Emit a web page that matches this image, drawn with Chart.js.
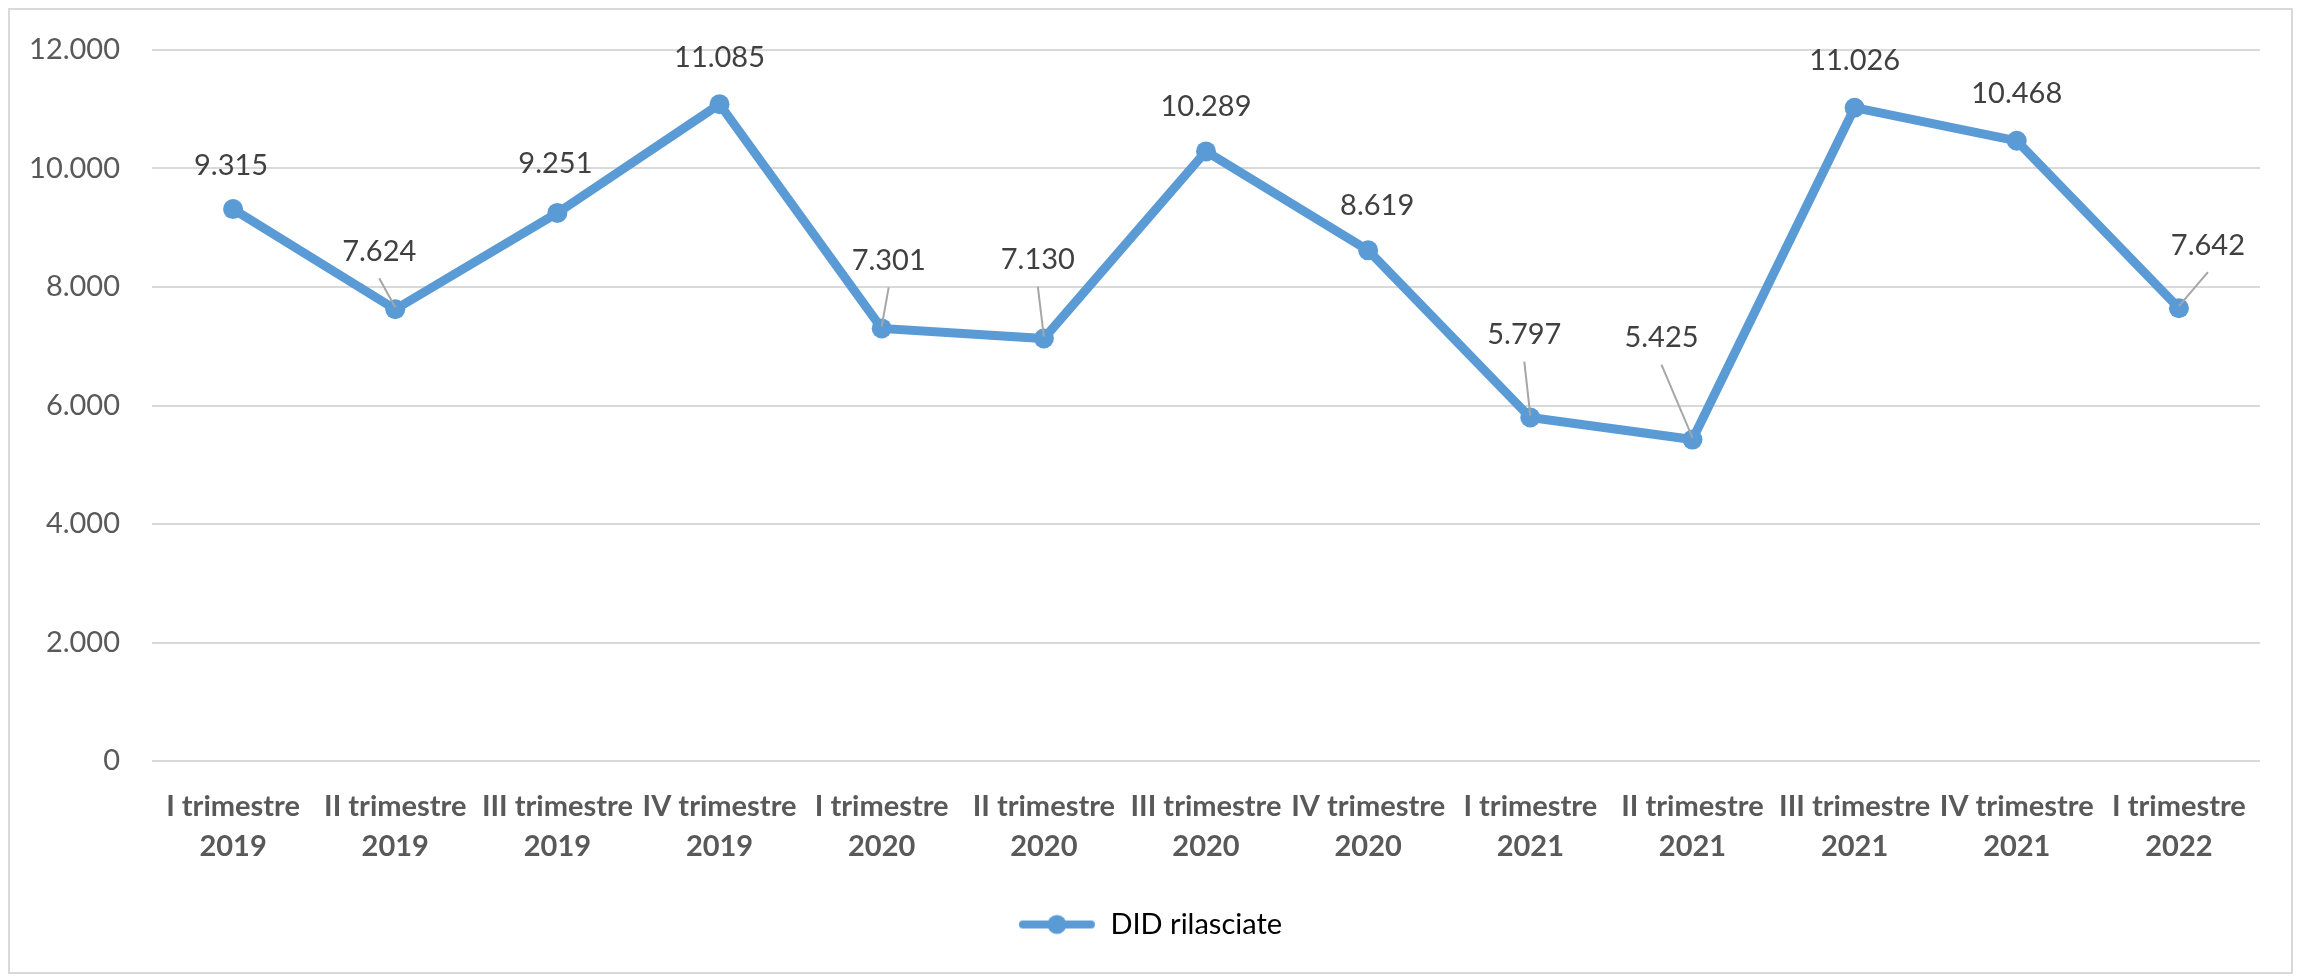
<!DOCTYPE html>
<html>
<head>
<meta charset="utf-8">
<script src="https://cdn.jsdelivr.net/npm/chart.js@4.4.1/dist/chart.umd.min.js"></script>
<style>
	body { margin: 0; background: #fff; }
	#frame {
		position: absolute; left: 8px; top: 8px; width: 2285px; height: 966px;
		border: 2px solid #d9d9d9; box-sizing: border-box;
	}
	#chart { position: absolute; left: 0; top: 0; }
</style>
</head>
<body>
<div id="frame"></div>
<canvas id="chart" width="2300" height="980"></canvas>
<script>
// data
const quarters = ['I trimestre', 'II trimestre', 'III trimestre', 'IV trimestre', 'I trimestre', 'II trimestre', 'III trimestre', 'IV trimestre', 'I trimestre', 'II trimestre', 'III trimestre', 'IV trimestre', 'I trimestre']
const years = ['2019', '2019', '2019', '2019', '2020', '2020', '2020', '2020', '2021', '2021', '2021', '2021', '2022']
const didRilasciate = [9315, 7624, 9251, 11085, 7301, 7130, 10289, 8619, 5797, 5425, 11026, 10468, 7642]
const seriesName = 'DID rilasciate'
const yMin = 0
const yMax = 12000
const yStep = 2000

// where each value label sits relative to its point (px), and whether it has a leader line
const labelShift = [[-2, -43], [-16, -58], [-2, -49], [0, -47], [7, -68], [-6, -79], [0, -45], [9, -45], [-6, -83], [-31, -102], [0, -47], [0, -47], [29, -63]]
const hasLeader = [false, true, false, false, true, true, false, false, true, true, false, false, true]

const BLUE = '#5b9bd5'
const FONT = 'Lato, "Open Sans", sans-serif'
const MARK_PAD = 40 // empty room left of the legend marker, nudges the legend right

function fmt(v) {
	return String(v).replace(/\B(?=(\d{3})+(?!\d))/g, '.')
}

// legend marker: line with a dot in the middle
function legendMarker() {
	let c = document.createElement('canvas')
	c.width = 78 + MARK_PAD
	c.height = 22
	let g = c.getContext('2d')
	g.translate(MARK_PAD, 0)
	g.strokeStyle = BLUE
	g.lineWidth = 8
	g.lineCap = 'round'
	g.beginPath()
	g.moveTo(5, 11)
	g.lineTo(73, 11)
	g.stroke()
	g.fillStyle = BLUE
	g.beginPath()
	g.arc(39, 11, 9.5, 0, Math.PI * 2)
	g.fill()
	return c
}

const valueLabels = {
	id: 'valueLabels',
	afterDatasetsDraw(chart) {
		const ctx = chart.ctx
		const meta = chart.getDatasetMeta(0)
		ctx.save()
		ctx.font = '29px ' + FONT
		ctx.fillStyle = '#404040'
		ctx.textAlign = 'center'
		ctx.textBaseline = 'middle'
		meta.data.forEach((pt, i) => {
			let lx = pt.x + labelShift[i][0]
			let ly = pt.y + labelShift[i][1]
			if (hasLeader[i]) {
				ctx.strokeStyle = '#a6a6a6'
				ctx.lineWidth = 2
				ctx.beginPath()
				ctx.moveTo(lx, ly + 27)
				ctx.lineTo(pt.x, pt.y - 2)
				ctx.stroke()
			}
			ctx.fillText(fmt(didRilasciate[i]), lx, ly)
		})
		ctx.restore()
	},
}

const marker = legendMarker()

new Chart(document.getElementById('chart'), {
	type: 'line',
	data: {
		labels: quarters.map((q, i) => [q, years[i]]),
		datasets: [
			{
				label: seriesName,
				data: didRilasciate,
				borderColor: BLUE,
				backgroundColor: BLUE,
				borderWidth: 9,
				pointRadius: 10,
				pointBorderWidth: 0,
				pointBackgroundColor: BLUE,
				pointStyle: 'circle',
				tension: 0,
			},
		],
	},
	options: {
		responsive: false,
		animation: false,
		devicePixelRatio: 1,
		layout: { padding: { top: 50, right: 40, bottom: 31, left: 0 } },
		plugins: {
			tooltip: { enabled: false },
			legend: {
				position: 'bottom',
				labels: {
					usePointStyle: true,
					pointStyleWidth: 78 + MARK_PAD,
					boxHeight: 22,
					padding: 10,
					color: '#595959',
					font: { family: FONT, size: 29 },
					generateLabels: (chart) => [
						{
							text: seriesName,
							pointStyle: marker,
							fillStyle: BLUE,
							strokeStyle: BLUE,
							lineWidth: 0,
							datasetIndex: 0,
						},
					],
				},
			},
		},
		scales: {
			x: {
				offset: true,
				grid: { display: false, drawTicks: false },
				border: { display: false },
				ticks: {
					autoSkip: false,
					maxRotation: 0,
					minRotation: 0,
					padding: 25,
					color: '#595959',
					font: { family: FONT, size: 29, weight: 'bold', lineHeight: 1.4 },
				},
				afterFit: (scale) => {
					scale.height = 139
				},
			},
			y: {
				min: yMin,
				max: yMax,
				grid: { color: '#d9d9d9', lineWidth: 2, drawTicks: false },
				border: { display: false },
				ticks: {
					stepSize: yStep,
					padding: 32,
					color: '#595959',
					font: { family: FONT, size: 29 },
					callback: (v) => fmt(v),
				},
				afterFit: (scale) => {
					scale.width = 152
				},
			},
		},
	},
	plugins: [valueLabels],
})
</script>
</body>
</html>
